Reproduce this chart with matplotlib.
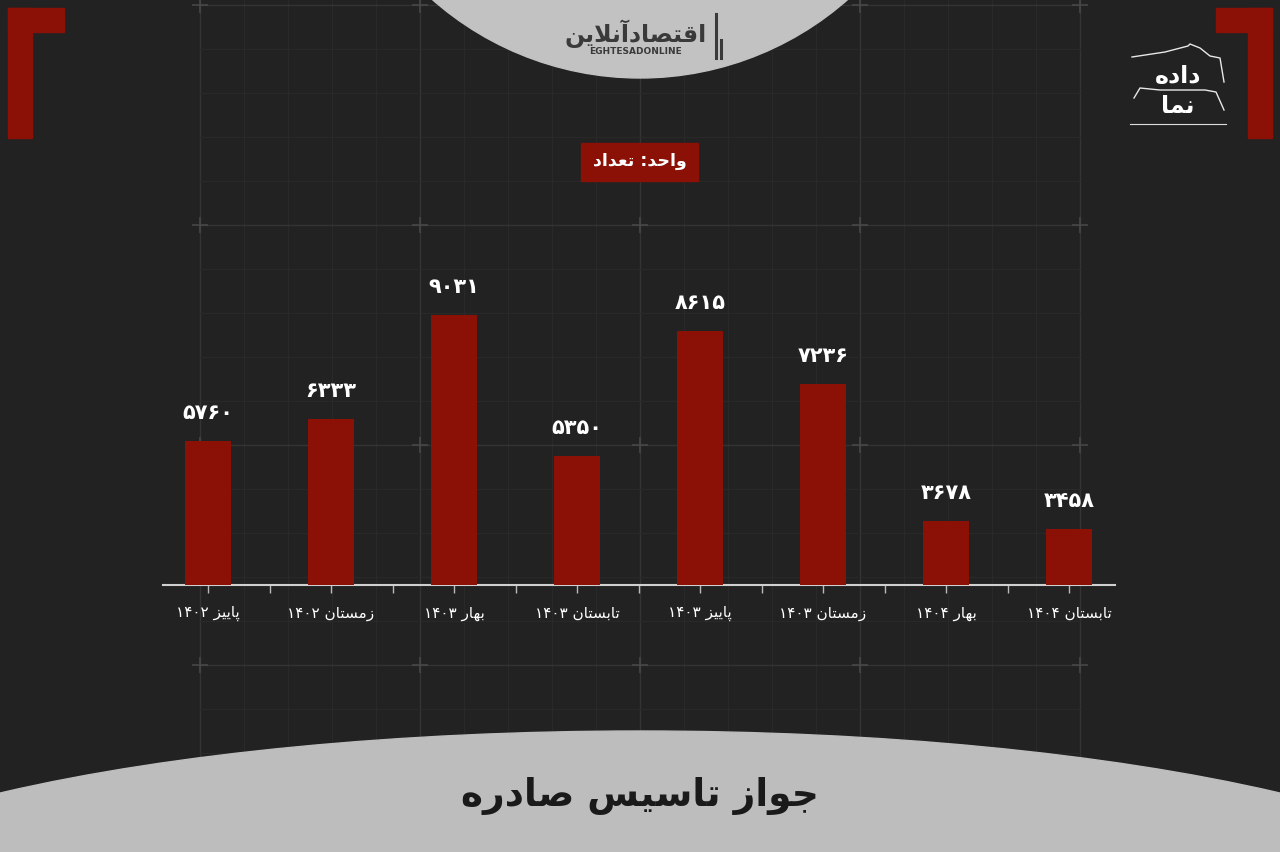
import re
import numpy as np
import matplotlib
matplotlib.use("Agg")
import matplotlib.pyplot as plt
from matplotlib.patches import Rectangle, Circle, Ellipse

# ── داده‌ها ────────────────────────────────────────────────
seasons = ["پاییز ۱۴۰۲", "زمستان ۱۴۰۲", "بهار ۱۴۰۳", "تابستان ۱۴۰۳",
           "پاییز ۱۴۰۳", "زمستان ۱۴۰۳", "بهار ۱۴۰۴", "تابستان ۱۴۰۴"]
counts = [5760, 6333, 9031, 5350, 8615, 7236, 3678, 3458]
unit_label = "واحد: تعداد"
title = "جواز تاسیس صادره"
brand = "اقتصادآنلاین"
brand_latin = "EGHTESADONLINE"
logo_top, logo_bottom = "داده", "نما"

BG = "#222222"
RED = "#8b1006"
GRAY = "#bdbdbd"

# ── شکل‌دهی ساده حروف فارسی (matplotlib خودش متن راست‌به‌چپ را نمی‌چسباند) ──
AR_FORMS = {  # isolated, final, initial, medial
    "ا": (0xFE8D, 0xFE8E, None, None),
    "آ": (0xFE81, 0xFE82, None, None),
    "ب": (0xFE8F, 0xFE90, 0xFE91, 0xFE92),
    "پ": (0xFB56, 0xFB57, 0xFB58, 0xFB59),
    "ت": (0xFE95, 0xFE96, 0xFE97, 0xFE98),
    "ج": (0xFE9D, 0xFE9E, 0xFE9F, 0xFEA0),
    "ح": (0xFEA1, 0xFEA2, 0xFEA3, 0xFEA4),
    "د": (0xFEA9, 0xFEAA, None, None),
    "ر": (0xFEAD, 0xFEAE, None, None),
    "ز": (0xFEAF, 0xFEB0, None, None),
    "س": (0xFEB1, 0xFEB2, 0xFEB3, 0xFEB4),
    "ص": (0xFEB9, 0xFEBA, 0xFEBB, 0xFEBC),
    "ع": (0xFEC9, 0xFECA, 0xFECB, 0xFECC),
    "ق": (0xFED5, 0xFED6, 0xFED7, 0xFED8),
    "ل": (0xFEDD, 0xFEDE, 0xFEDF, 0xFEE0),
    "م": (0xFEE1, 0xFEE2, 0xFEE3, 0xFEE4),
    "ن": (0xFEE5, 0xFEE6, 0xFEE7, 0xFEE8),
    "ه": (0xFEE9, 0xFEEA, 0xFEEB, 0xFEEC),
    "و": (0xFEED, 0xFEEE, None, None),
    "ی": (0xFBFC, 0xFBFD, 0xFBFE, 0xFBFF),
}
LAM_ALEF = {"ا": (0xFEFB, 0xFEFC), "آ": (0xFEF5, 0xFEF6)}


def fa(text):
    chars = list(text)
    out = []
    i = 0
    while i < len(chars):
        c = chars[i]
        if c not in AR_FORMS:
            out.append(c)
            i += 1
            continue
        prev = chars[i - 1] if i > 0 else ""
        joins_prev = prev in AR_FORMS and AR_FORMS[prev][2] is not None
        if c == "ل" and i + 1 < len(chars) and chars[i + 1] in LAM_ALEF:
            iso, fin = LAM_ALEF[chars[i + 1]]
            out.append(chr(fin if joins_prev else iso))
            i += 2
            continue
        nxt = chars[i + 1] if i + 1 < len(chars) else ""
        iso, fin, ini, med = AR_FORMS[c]
        joins_next = ini is not None and nxt in AR_FORMS
        if joins_prev and joins_next:
            g = med
        elif joins_prev:
            g = fin
        elif joins_next:
            g = ini
        else:
            g = iso
        out.append(chr(g))
        i += 1
    vis = "".join(out)[::-1]
    return re.sub(r"[۰-۹0-9]+", lambda m: m.group()[::-1], vis)


def fa_num(v):
    return str(v).translate(str.maketrans("0123456789", "۰۱۲۳۴۵۶۷۸۹"))


plt.rcParams["font.family"] = ["DejaVu Sans"]

W, H = 1280, 852
fig = plt.figure(figsize=(W / 100, H / 100), dpi=100, facecolor=BG)

# ── پس‌زمینه (مختصات پیکسلی) ──────────────────────────────
bg = fig.add_axes([0, 0, 1, 1])
bg.set_xlim(0, W)
bg.set_ylim(H, 0)
bg.axis("off")
bg.set_facecolor(BG)

for gx in np.arange(200, 1081, 44):
    major = (gx - 200) % 220 == 0
    bg.plot([gx, gx], [0, 760], color="#343434" if major else "#2a2a2a",
            lw=1.0 if major else 0.7, zorder=1)
for gy in np.arange(5, 761, 44):
    major = (gy - 5) % 220 == 0
    bg.plot([200, 1080], [gy, gy], color="#343434" if major else "#2a2a2a",
            lw=1.0 if major else 0.7, zorder=1)
for gx in range(200, 1081, 220):
    for gy in range(5, 761, 220):
        bg.plot(gx, gy, marker="+", ms=12, mew=1.2, color="#474747", zorder=2)

# قاب‌های قرمز گوشه‌ها
bg.add_patch(Rectangle((8, 8), 24, 130, color=RED, zorder=3))
bg.add_patch(Rectangle((8, 8), 56, 24, color=RED, zorder=3))
bg.add_patch(Rectangle((1248, 8), 24, 130, color=RED, zorder=3))
bg.add_patch(Rectangle((1216, 8), 56, 24, color=RED, zorder=3))

# نیم‌دایره بالا و بیضی پایین
bg.add_patch(Circle((640, -236), 314, color="#c2c2c2", zorder=3))
bg.add_patch(Ellipse((640, 940), 1800, 418, color=GRAY, zorder=3))

bg.text(636, 34, fa(brand), ha="center", va="center", fontsize=17,
        fontweight="bold", color="#3a3a3a", zorder=4)
bg.text(636, 51, brand_latin, ha="center", va="center", fontsize=6.5,
        fontweight="bold", color="#3a3a3a", zorder=4)
bg.plot([716, 716], [14, 58], color="#3a3a3a", lw=2.2, zorder=4)
bg.plot([721, 721], [40, 58], color="#3a3a3a", lw=2.2, zorder=4)

# لوگوی داده‌نما
bg.text(1178, 76, fa(logo_top), ha="center", va="center", fontsize=17,
        fontweight="bold", color="white", zorder=4)
bg.text(1178, 106, fa(logo_bottom), ha="center", va="center", fontsize=17,
        fontweight="bold", color="white", zorder=4)
bg.plot([1132, 1165, 1188, 1190, 1200, 1210, 1220, 1224],
        [57, 52, 46, 44, 48, 56, 58, 82], color="#e8e8e8", lw=1.0, zorder=4)
bg.plot([1134, 1140, 1160, 1205, 1216, 1224],
        [98, 88, 90, 90, 92, 110], color="#e8e8e8", lw=1.0, zorder=4)
bg.plot([1130, 1226], [124, 124], color="#dddddd", lw=0.8, zorder=4)

# برچسب واحد
bg.add_patch(Rectangle((581, 143), 117, 38, color=RED, zorder=4))
bg.text(639.5, 161, fa(unit_label), ha="center", va="center", fontsize=12.5,
        fontweight="bold", color="white", zorder=5)

bg.text(640, 796, fa(title), ha="center", va="center", fontsize=27,
        fontweight="bold", color="#1a1a1a", zorder=4)

# ── نمودار میله‌ای ─────────────────────────────────────────
left, right, top, base = 163, 1115, 205, 585
ax = fig.add_axes([left / W, 1 - base / H, (right - left) / W, (base - top) / H])
ax.set_facecolor("none")

x = np.arange(len(counts))
bars = ax.bar(x, counts, width=0.38, color=RED, zorder=3)
ax.set_ylim(2000, 11900)
ax.set_xlim(-0.366, 7.374)

for xi, v in zip(x, counts):
    ax.annotate(fa_num(v), (xi, v), xytext=(0, 13), textcoords="offset points",
                ha="center", va="bottom", fontsize=15, fontweight="bold",
                color="white")

ax.set_xticks(x)
ax.set_xticklabels([fa(s) for s in seasons], fontsize=11, color="white")
ax.set_xticks(x[:-1] + 0.5, minor=True)
ax.tick_params(axis="x", which="both", length=6, width=1, color="#bbbbbb",
               direction="out", pad=9)
ax.set_yticks([])
for s in ["left", "top", "right"]:
    ax.spines[s].set_visible(False)
ax.spines["bottom"].set_color("#d0d0d0")
ax.spines["bottom"].set_linewidth(1.5)

fig.savefig("out.png", dpi=100, facecolor=BG)
